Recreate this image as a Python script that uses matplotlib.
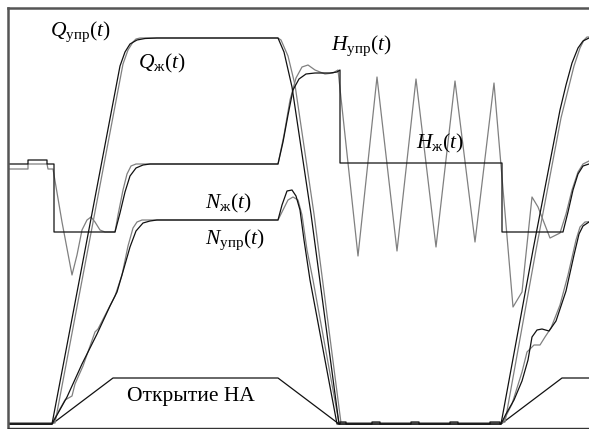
import matplotlib
matplotlib.use("Agg")
import matplotlib.pyplot as plt

plt.rcParams["mathtext.fontset"] = "custom"
plt.rcParams["mathtext.rm"] = "Liberation Serif"
plt.rcParams["mathtext.it"] = "Liberation Serif:italic"
plt.rcParams["font.family"] = ["Liberation Serif", "DejaVu Serif"]

# Time axis (arbitrary units) and signal levels (arbitrary units)
q_upr_t = [0, 44, 112, 117, 122, 129, 137, 149, 270, 276, 284, 303, 331, 493, 525, 552, 558, 564, 570, 575, 581, 592]
q_upr_v = [4, 4, 362, 376, 384, 388, 389.5, 390, 390, 376, 341, 214, 4, 4, 178, 318, 343, 365, 380, 387, 390, 390]

q_zh_t = [0, 47, 115, 120, 125, 128, 132, 270, 273, 280, 287, 306, 333, 493, 497, 528, 553, 560, 566, 572, 576, 579, 592]
q_zh_v = [5, 5, 364, 378, 386, 389, 390, 390, 388, 372, 343, 214, 5, 5, 6, 178, 310, 338, 362, 380, 388, 391, 391]

h_upr_t = [0, 20, 20, 39, 39, 46, 46, 107, 112, 117, 122, 128, 135, 142, 270, 275, 280, 285, 291, 298, 307, 322, 329,
           332, 332, 494, 494, 555, 560, 565, 570, 575, 581, 592]
h_upr_v = [264, 264, 268, 268, 264, 264, 196, 196, 215, 236, 252, 260, 263, 264, 264, 286, 313, 338, 349, 354, 355, 355,
           356, 358, 265, 265, 196, 196, 216, 238, 254, 262, 264, 265]

h_zh_t = [0, 20, 20, 39, 40, 45, 54, 64, 69, 74, 79, 83, 87, 92, 97, 107, 110, 115, 119, 123, 128, 270, 276, 282, 288,
          294, 300, 307, 317, 325, 330, 350, 369, 389, 408, 428, 447, 467, 486, 505, 514, 524, 530, 542, 552, 558,
          564, 570, 575, 581, 592]
h_zh_v = [259, 259, 264, 264, 259, 259, 206, 153, 173, 198, 208, 211, 206, 198, 196, 196, 213, 238, 254, 262, 264, 264,
          293, 328, 350, 361, 363, 358, 354, 355, 358, 172, 351, 177, 349, 181, 347, 186, 345, 121, 136, 231, 221,
          190, 195, 214, 238, 256, 264, 267, 267]

n_upr_t = [0, 44, 59, 74, 89, 102, 109, 116, 122, 128, 135, 142, 149, 270, 274, 279, 284, 288, 292, 296, 302, 329,
           332, 332, 338, 338, 364, 364, 372, 372, 403, 403, 411, 411, 442, 442, 450, 450, 482, 482, 492, 492, 493,
           498, 506, 514, 520, 524, 529, 534, 541, 548, 558, 566, 571, 575, 581, 592]
n_upr_v = [4, 4, 31, 64, 94, 122, 136, 160, 181, 197, 205, 207, 208, 208, 223, 237, 238, 232, 218, 188, 148, 4,
           4, 6, 6, 4, 4, 6, 6, 4, 4, 6, 6, 4, 4, 6, 6, 4, 4, 6, 6, 4, 4,
           14, 28, 47, 68, 91, 98, 99, 97, 107, 137, 173, 194, 202, 206, 208]

n_zh_t = [0, 44, 57, 64, 67, 75, 87, 90, 107, 114, 120, 125, 129, 134, 270, 275, 280, 285, 290, 294, 299, 305, 331,
          493, 496, 504, 514, 519, 526, 532, 537, 543, 552, 560, 568, 572, 577, 592]
n_zh_v = [5, 5, 28, 32, 44, 62, 96, 99, 132, 153, 182, 200, 206, 208, 208, 218, 228, 231, 228, 213, 178, 148, 5,
          5, 8, 24, 56, 76, 83, 83, 91, 100, 123, 153, 188, 201, 206, 207]

opening_t = [0, 44, 105, 270, 331, 493, 554, 592]
opening_v = [4, 4, 50, 50, 4, 4, 50, 50]

BLACK = "#111111"
GRAY = "#808080"

fig = plt.figure(figsize=(5.89, 4.29), dpi=100)
ax = fig.add_axes([8 / 589, 1 / 429, 632 / 589, 420 / 429])
ax.set_xlim(0, 632)
ax.set_ylim(0, 420)

lw = 0.9
ax.plot(opening_t, opening_v, color=BLACK, lw=lw)
ax.plot(h_zh_t, h_zh_v, color=GRAY, lw=lw)
ax.plot(q_zh_t, q_zh_v, color=GRAY, lw=lw)
ax.plot(n_zh_t, n_zh_v, color=GRAY, lw=lw)
ax.plot(h_upr_t, h_upr_v, color=BLACK, lw=lw)
ax.plot(q_upr_t, q_upr_v, color=BLACK, lw=lw)
ax.plot(n_upr_t, n_upr_v, color=BLACK, lw=lw)

fs = 15.5
ax.text(42, 392, r"$Q_{\mathrm{упр}}(t)$", fontsize=fs, ha="left", va="baseline")
ax.text(130, 360, r"$Q_{\mathrm{ж}}(t)$", fontsize=fs, ha="left", va="baseline")
ax.text(323, 378, r"$H_{\mathrm{упр}}(t)$", fontsize=fs, ha="left", va="baseline")
ax.text(408, 280, r"$H_{\mathrm{ж}}(t)$", fontsize=fs, ha="left", va="baseline")
ax.text(197, 220, r"$N_{\mathrm{ж}}(t)$", fontsize=fs, ha="left", va="baseline")
ax.text(197, 184, r"$N_{\mathrm{упр}}(t)$", fontsize=fs, ha="left", va="baseline")
ax.text(119, 27, "Открытие НА", fontsize=15.5, ha="left", va="baseline")

ax.set_xticks([])
ax.set_yticks([])
ax.spines["right"].set_visible(False)
ax.spines["left"].set_color("#555555")
ax.spines["top"].set_color("#555555")
ax.spines["left"].set_linewidth(1.8)
ax.spines["top"].set_linewidth(1.8)
ax.spines["bottom"].set_color("#333333")
ax.spines["bottom"].set_linewidth(1.0)

fig.savefig("out.png", dpi=100)
